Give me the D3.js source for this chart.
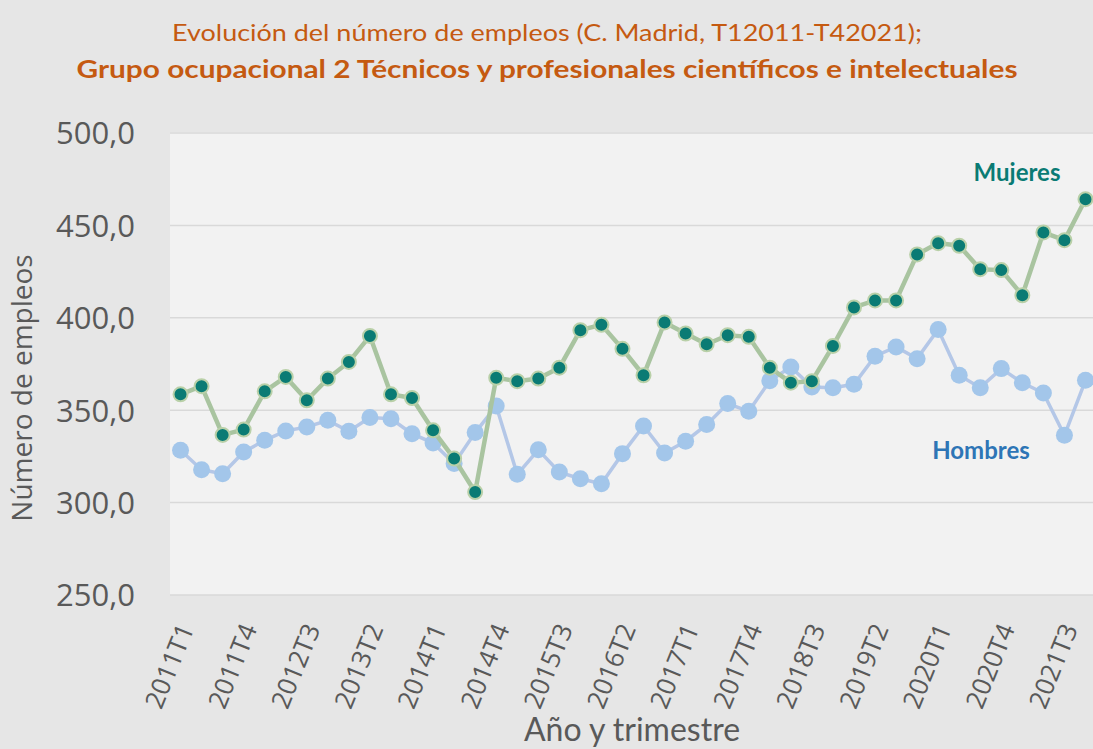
<!DOCTYPE html>
<html>
<head>
<meta charset="utf-8">
<script src="https://cdn.jsdelivr.net/npm/d3@7"></script>
<style>
  body { margin: 0; background: #e6e6e6; }
  svg { display: block; }
</style>
</head>
<body>
<div id="chart"></div>
<script>
// quarters 2011T1 .. 2021T4
var years = [2011, 2012, 2013, 2014, 2015, 2016, 2017, 2018, 2019, 2020, 2021];
var quarters = [];
years.forEach(function(y) { [1, 2, 3, 4].forEach(function(q) { quarters.push(y + 'T' + q); }); });

var mujeres = [358.6, 363.0, 336.6, 339.5, 360.2, 368.0, 355.4, 367.1, 376.1, 390.2, 358.6,
  356.6, 339.1, 323.8, 305.7, 367.5, 365.7, 367.1, 373.0, 393.3, 396.2, 383.2, 368.9,
  397.5, 391.5, 385.7, 390.6, 389.7, 373.0, 364.9, 365.7, 384.8, 405.6, 409.4, 409.4,
  434.3, 440.4, 439.0, 426.3, 425.8, 412.2, 446.2, 442.0, 464.2];
var hombres = [328.3, 317.8, 315.6, 327.4, 333.7, 338.8, 340.9, 344.5, 338.6, 346.0, 345.4,
  337.3, 332.2, 321.1, 337.9, 352.3, 315.3, 328.6, 316.5, 312.9, 310.2, 326.5, 341.5,
  326.8, 333.2, 342.2, 353.6, 349.4, 365.9, 373.4, 362.6, 362.1, 364.0, 379.2, 384.2,
  377.9, 393.7, 368.9, 362.2, 372.5, 364.8, 359.3, 336.4, 366.2];
var yTicks = [250, 300, 350, 400, 450, 500];

var W = 1093, H = 749;
var plot = {left: 170, right: 1096, top: 132, bottom: 595};

var svg = d3.select('#chart').append('svg')
  .attr('width', W).attr('height', H);

svg.append('rect').attr('width', W).attr('height', H).attr('fill', '#e6e6e6');
svg.append('rect')
  .attr('x', plot.left).attr('y', plot.top)
  .attr('width', plot.right - plot.left).attr('height', plot.bottom - plot.top)
  .attr('fill', '#f2f2f2');

var x = d3.scalePoint().domain(quarters).range([plot.left, plot.right]).padding(0.5);
var y = d3.scaleLinear().domain([250, 500]).range([plot.bottom, plot.top + 1]);

// gridlines
svg.append('g').selectAll('line')
  .data(yTicks)
  .enter().append('line')
  .attr('x1', plot.left).attr('x2', plot.right)
  .attr('y1', function(d) { return y(d); })
  .attr('y2', function(d) { return y(d); })
  .attr('stroke', '#d9d9d9').attr('stroke-width', 1.5);

// y axis labels
var yAxis = d3.axisLeft(y).tickValues(yTicks).tickSize(0).tickPadding(0)
  .tickFormat(function(d) { return d3.format('.1f')(d).replace('.', ','); });
var gy = svg.append('g').attr('transform', 'translate(135,0)').call(yAxis);
gy.select('.domain').remove();
gy.selectAll('text')
  .attr('font-family', '"Open Sans", sans-serif').attr('font-size', 31)
  .attr('fill', '#595959').attr('dy', '0.35em');

// x axis labels (every 3rd quarter)
var xAxis = d3.axisBottom(x).tickSize(0)
  .tickValues(quarters.filter(function(d, i) { return i % 3 === 0; }));
var gx = svg.append('g').attr('transform', 'translate(0,' + (plot.bottom + 30) + ')').call(xAxis);
gx.select('.domain').remove();
gx.selectAll('text')
  .attr('font-family', '"Open Sans", sans-serif').attr('font-size', 26)
  .attr('fill', '#595959')
  .attr('text-anchor', 'end')
  .attr('y', 0)
  .attr('dy', '0.35em')
  .attr('transform', 'translate(5,0) rotate(-68)');

// lines
var line = function(vals) {
  return d3.line()
    .x(function(d, i) { return x(quarters[i]); })
    .y(function(d) { return y(d); })(vals);
};

svg.append('path').attr('d', line(hombres))
  .attr('fill', 'none').attr('stroke', '#b4c7e7').attr('stroke-width', 3.5);
svg.append('g').selectAll('circle')
  .data(hombres).enter().append('circle')
  .attr('cx', function(d, i) { return x(quarters[i]); })
  .attr('cy', function(d) { return y(d); })
  .attr('r', 8.5).attr('fill', '#a3c6ea');

svg.append('path').attr('d', line(mujeres))
  .attr('fill', 'none').attr('stroke', '#a9c4a0').attr('stroke-width', 4.5);
svg.append('g').selectAll('circle')
  .data(mujeres).enter().append('circle')
  .attr('cx', function(d, i) { return x(quarters[i]); })
  .attr('cy', function(d) { return y(d); })
  .attr('r', 7).attr('fill', '#0a7b74')
  .attr('stroke', '#b9d0a8').attr('stroke-width', 2);

// series labels
svg.append('text').text('Mujeres')
  .attr('x', 1017).attr('y', 181).attr('text-anchor', 'middle')
  .attr('font-family', 'Lato, sans-serif').attr('font-weight', 'bold').attr('font-size', 24)
  .attr('fill', '#0a7b74');
svg.append('text').text('Hombres')
  .attr('x', 981).attr('y', 459).attr('text-anchor', 'middle')
  .attr('font-family', 'Lato, sans-serif').attr('font-weight', 'bold').attr('font-size', 24)
  .attr('fill', '#2e75b6');

// titles
svg.append('text').text('Evolución del número de empleos (C. Madrid, T12011-T42021);')
  .attr('x', 547).attr('y', 41).attr('text-anchor', 'middle')
  .attr('font-family', 'Lato, sans-serif').attr('font-size', 23)
  .attr('textLength', 750).attr('lengthAdjust', 'spacingAndGlyphs')
  .attr('fill', '#c55a11');
svg.append('text').text('Grupo ocupacional 2 Técnicos y profesionales científicos e intelectuales')
  .attr('x', 547).attr('y', 78).attr('text-anchor', 'middle')
  .attr('font-family', 'Lato, sans-serif').attr('font-weight', 'bold').attr('font-size', 25)
  .attr('textLength', 941).attr('lengthAdjust', 'spacingAndGlyphs')
  .attr('fill', '#c55a11');

// axis titles
svg.append('text').text('Número de empleos')
  .attr('transform', 'translate(32,388) rotate(-90)').attr('text-anchor', 'middle')
  .attr('font-family', '"Open Sans", sans-serif').attr('font-size', 28)
  .attr('fill', '#595959');
svg.append('text').text('Año y trimestre')
  .attr('x', 632).attr('y', 741).attr('text-anchor', 'middle')
  .attr('font-family', 'Lato, sans-serif').attr('font-size', 32)
  .attr('fill', '#595959');
</script>
</body>
</html>
